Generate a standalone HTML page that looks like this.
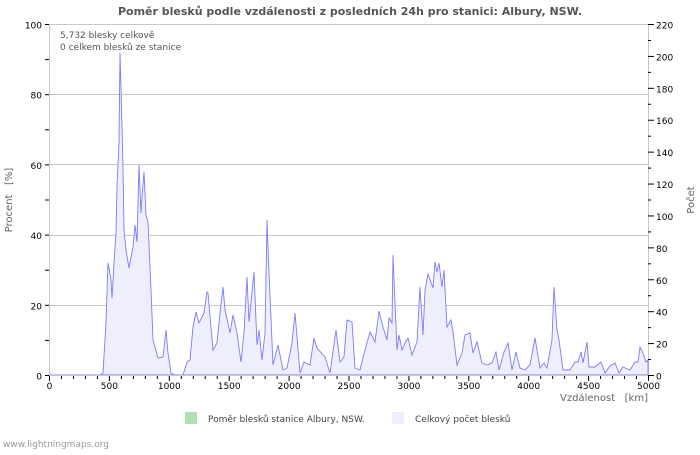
<!DOCTYPE html>
<html><head><meta charset="utf-8"><style>
body{margin:0;background:#fff;}
svg text{font-family:"DejaVu Sans","Liberation Sans",sans-serif;}
</style></head><body>
<svg width="700" height="450" viewBox="0 0 700 450" xmlns="http://www.w3.org/2000/svg">
<rect width="700" height="450" fill="#fff"/>
<text x="350" y="15" text-anchor="middle" font-size="11" font-weight="bold" fill="#555">Poměr blesků podle vzdálenosti z posledních 24h pro stanici: Albury, NSW.</text>
<g stroke="#c8c8c8" stroke-width="1">
<line x1="49" y1="94.5" x2="648" y2="94.5"/><line x1="49" y1="164.5" x2="648" y2="164.5"/>
<line x1="49" y1="235.5" x2="648" y2="235.5"/><line x1="49" y1="305.5" x2="648" y2="305.5"/>
<line x1="49" y1="24.5" x2="648" y2="24.5"/>
<line x1="49.5" y1="24" x2="49.5" y2="375"/><line x1="648.5" y1="24" x2="648.5" y2="375"/>
</g>
<polygon fill="#eeeefc" stroke="#7b7bff" stroke-width="0.9" points="49,375 100,375 103,373 106,322 108,263 111,280 112,298 114,263 116,233 117,185 119,143 120,53 121,87 123,167 124,230 126,250 129,268 133,247 135,225 137,242 139,165 141,213 142,197 144,172 146,215 148,222 151,290 153,340 158,358 163,357 166,330 168,353 171,373 175,375 183,375 187,362 190,360 193,327 196,312 199,323 204,313 207,292 208,293 213,350 217,343 220,313 223,287 225,310 230,333 233,315 237,333 241,362 244,333 247,277 249,322 254,272 257,345 259,330 262,360 265,333 267,220 269,273 273,365 278,345 283,370 287,368 292,343 295,313 300,373 304,362 310,365 314,338 317,348 325,357 330,373 336,330 340,362 344,357 347,320 352,322 355,368 360,370 365,350 370,332 375,342 379,311 383,327 387,340 389,318 392,323 393,255 395,303 397,350 399,335 402,350 405,343 408,338 412,355 417,342 420,287 423,335 425,290 428,274 433,288 435,262 437,272 439,263 442,287 444,270 447,327 451,320 453,332 457,365 462,353 465,335 470,333 473,353 477,342 482,363 487,365 492,363 496,352 499,370 504,352 508,343 512,370 516,352 520,368 525,370 530,365 535,338 540,368 544,363 547,368 552,340 554,287 557,330 559,340 563,370 570,370 575,362 578,362 581,352 583,363 587,342 589,367 595,367 601,362 605,373 610,366 615,363 619,373 623,367 630,370 635,362 638,362 640,347 643,353 646,362 648,360 648,375"/>
<line x1="49" y1="375.5" x2="648" y2="375.5" stroke="#c8c8c8"/>
<g stroke="#000" stroke-width="1" id="ticks"></g>
<g font-size="9" fill="#000" id="labels"></g>
<text x="60" y="38" font-size="9" fill="#555">5,732 blesky celkově</text>
<text x="60" y="50" font-size="9" fill="#555">0 celkem blesků ze stanice</text>
<text x="12" y="200" font-size="10" fill="#666" transform="rotate(-90 12 200)" text-anchor="middle" xml:space="preserve">Procent   [%]</text>
<text x="694" y="200" font-size="10" fill="#666" transform="rotate(-90 694 200)" text-anchor="middle">Počet</text>
<text x="648" y="401" font-size="10" fill="#666" text-anchor="end" xml:space="preserve">Vzdálenost   [km]</text>
<rect x="185" y="412" width="12" height="12" fill="#b3e0b3"/>
<text x="208" y="422" font-size="9" fill="#444">Poměr blesků stanice Albury, NSW.</text>
<rect x="392" y="412" width="12" height="12" fill="#eeeefc"/>
<text x="415" y="422" font-size="9" fill="#444">Celkový počet blesků</text>
<text x="3" y="447" font-size="9" fill="#999">www.lightningmaps.org</text>
</svg>
<script>
var ns="http://www.w3.org/2000/svg",t=document.getElementById("ticks"),l=document.getElementById("labels");
function ln(a,b,c,d){var e=document.createElementNS(ns,"line");e.setAttribute("x1",a);e.setAttribute("y1",b);e.setAttribute("x2",c);e.setAttribute("y2",d);t.appendChild(e);}
function tx(x,y,s,a){var e=document.createElementNS(ns,"text");e.setAttribute("x",x);e.setAttribute("y",y);e.setAttribute("text-anchor",a);e.textContent=s;l.appendChild(e);}
for(var k=0;k<=50;k++){var x=49.5+k*599/50;ln(x,376,x,k%5==0?381:379);if(k%5==0)tx(x,389,String(k*100),"middle");}
for(var p=0;p<=10;p++){var y=375.5-p*35.1;ln(45,y,49,y);if(p%2==0)tx(42,y+4,String(p*10),"end");}
for(var c=0;c<=22;c++){var y=375.5-c*351/22;ln(648,y,c%2==0?654:651,y);if(c%2==0)tx(656,y+4,String(c*10),"start");}
</script>
</body></html>
